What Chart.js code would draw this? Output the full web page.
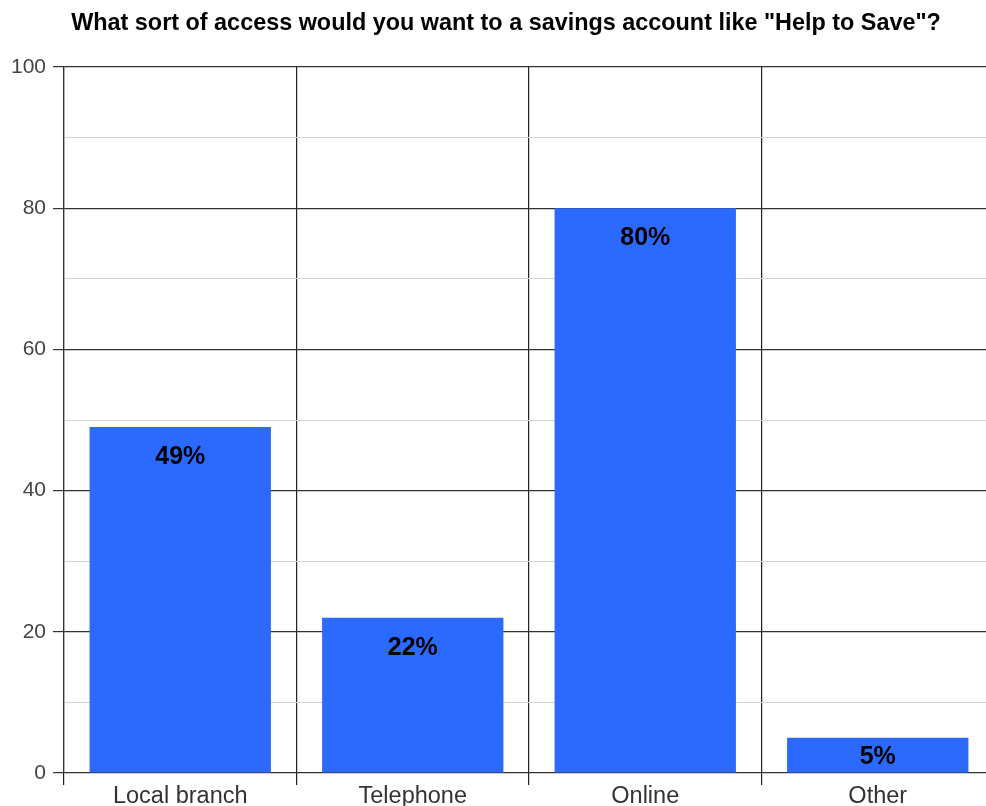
<!DOCTYPE html>
<html>
<head>
<meta charset="utf-8">
<script src="https://cdn.jsdelivr.net/npm/chart.js@4.4.0/dist/chart.umd.min.js"></script>
<style>
  html, body { margin: 0; padding: 0; background: #fff; overflow: hidden; }
  #wrap { position: absolute; left: 0; top: 0; width: 1012px; height: 806px; }
</style>
</head>
<body>
<div id="wrap"><canvas id="chart" width="1012" height="806"></canvas></div>
<script>
// data
const categories = ["Local branch", "Telephone", "Online", "Other"];
const percentages = [49, 22, 80, 5];
const yTicks = [0, 20, 40, 60, 80, 100];
const titleText = 'What sort of access would you want to a savings account like "Help to Save"?';

const FONT = "'Liberation Sans', Arial, Helvetica, sans-serif";

// draw "49%" etc. inside the top of each bar
const barLabels = {
  id: "barLabels",
  afterDatasetsDraw(chart) {
    const ctx = chart.ctx;
    const meta = chart.getDatasetMeta(0);
    ctx.save();
    ctx.font = "bold 25px " + FONT;
    ctx.fillStyle = "#000";
    ctx.textAlign = "center";
    ctx.textBaseline = "middle";
    meta.data.forEach((bar, i) => {
      const top = bar.y, bottom = bar.base;
      const y = Math.min(top + 30, (top + bottom) / 2 + 2);
      ctx.fillText(percentages[i] + "%", bar.x, y);
    });
    ctx.restore();
  }
};

new Chart(document.getElementById("chart"), {
  type: "bar",
  data: {
    labels: categories,
    datasets: [{
      data: percentages,
      backgroundColor: "#2B69FF",
      borderWidth: 0,
      barPercentage: 0.78,
      categoryPercentage: 1
    }]
  },
  options: {
    responsive: false,
    animation: false,
    layout: { padding: 0 },
    plugins: {
      legend: { display: false },
      tooltip: { enabled: false },
      title: {
        display: true,
        text: titleText,
        color: "#000",
        font: { family: FONT, size: 23.4, weight: "bold" },
        padding: { top: 10, bottom: 29 }
      }
    },
    scales: {
      x: {
        grid: {
          offset: true,
          color: "#222",
          lineWidth: 1.2,
          tickLength: 12,
          drawTicks: true
        },
        border: { display: false },
        ticks: {
          color: "#333",
          padding: -3,
          font: { family: FONT, size: 23.5 }
        },
        afterFit(scale) { scale.height = 33; }
      },
      y: {
        min: 0,
        max: 100,
        grid: {
          color: c => (c.tick && c.tick.value % 20 === 0) ? "#333" : "#d4d4d4",
          lineWidth: c => (c.tick && c.tick.value % 20 === 0) ? 1.2 : 1,
          tickColor: c => (c.tick && c.tick.value % 20 === 0) ? "#333" : "rgba(0,0,0,0)",
          tickLength: 11
        },
        border: { display: true, color: "#333", width: 1.2 },
        ticks: {
          stepSize: 10,
          color: "#444",
          padding: 7,
          font: { family: FONT, size: 21 },
          callback: v => yTicks.includes(v) ? String(v) : ""
        },
        afterFit(scale) { scale.width = 64; }
      },
      // empty right axis, only used as right-hand margin so the title centres like the original
      yRight: {
        position: "right",
        min: 0,
        max: 100,
        grid: { display: false, drawOnChartArea: false },
        border: { display: false },
        ticks: { display: false },
        afterFit(scale) { scale.width = 18; }
      }
    }
  },
  plugins: [barLabels]
});
</script>
</body>
</html>
